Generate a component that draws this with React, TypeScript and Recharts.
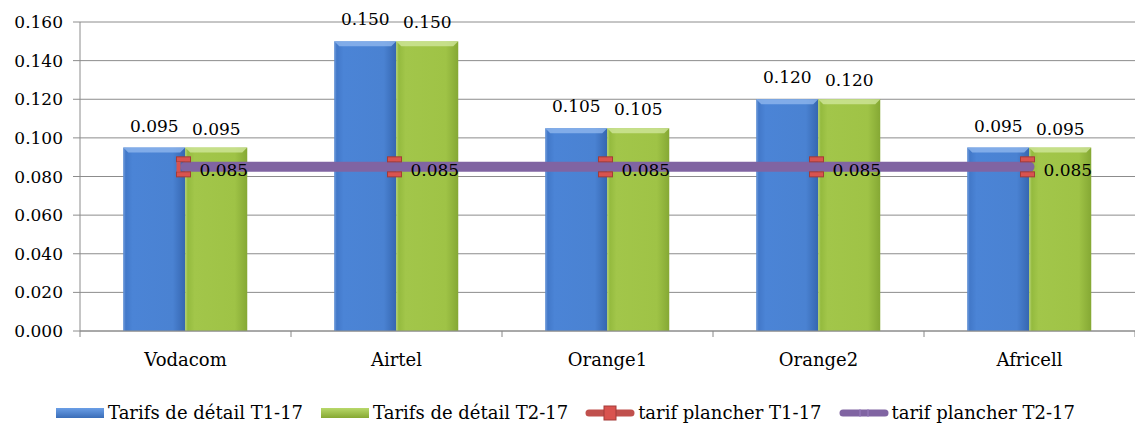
import React from 'react';
import {
  ComposedChart, Bar, Line, XAxis, YAxis, CartesianGrid, Legend, LabelList
} from 'recharts';

const categories = ['Vodacom', 'Airtel', 'Orange1', 'Orange2', 'Africell'];
const retailT1 = [0.095, 0.150, 0.105, 0.120, 0.095];
const retailT2 = [0.095, 0.150, 0.105, 0.120, 0.095];
const floorT1 = [0.085, 0.085, 0.085, 0.085, 0.085];
const floorT2 = [0.085, 0.085, 0.085, 0.085, 0.085];
const yTicks = [0, 0.02, 0.04, 0.06, 0.08, 0.1, 0.12, 0.14, 0.16];

const data = categories.map((c, i) => ({
  name: c,
  t1: retailT1[i],
  t2: retailT2[i],
  p1: floorT1[i],
  p2: floorT2[i],
}));

const FONT = 'DejaVu Serif';
const fmt = (v: any) => Number(v).toFixed(3);
const PURPLE_W = 10;

// bar with a little bevel on top, like the office 3d look
function BevelBar(props: any) {
  const { x, y, width, height, gradId, light } = props;
  if (!height || height <= 0) return null;
  const b = 5;
  return (
    <g>
      <rect x={x} y={y} width={width} height={height} fill={`url(#${gradId})`} />
      <polygon points={`${x},${y} ${x + width},${y} ${x + width - b},${y + b} ${x + b},${y + b}`} fill={light} opacity={0.8} />
      <rect x={x} y={y} width={2} height={height} fill={light} opacity={0.35} />
    </g>
  );
}

// red marker sits behind the thick purple line, so only the parts
// sticking out above/below (and left of the line start) get drawn
function SquareDot(props: any) {
  const { cx, cy, index } = props;
  if (cx == null || cy == null) return null;
  const x0 = cx - 9, w = 14, y0 = cy - 10, h = 20;
  const band = PURPLE_W / 2;
  return (
    <g fill="#d9534f" stroke="#a33b38" strokeWidth={1}>
      <rect x={x0} y={y0} width={w} height={h - 10 - band + 0} />
      <rect x={x0} y={cy + band} width={w} height={y0 + h - (cy + band)} />
      {index === 0 && <rect x={x0} y={cy - band} width={4} height={PURPLE_W} stroke="none" />}
    </g>
  );
}

function mkLabel(dx: number, dy: number, anchor: string) {
  return (p: any) => {
    const { x, y, width, value } = p;
    const tx = anchor === 'middle' ? x + width / 2 : x + dx;
    return (
      <text x={tx} y={y + dy} textAnchor={anchor} fontFamily={FONT} fontSize={17} fill="#000">
        {fmt(value)}
      </text>
    );
  };
}

function CatTick(props: any) {
  const { x, y, payload, index, visibleTicksCount } = props;
  const off = payload?.offset ?? 0;
  return (
    <g>
      <line x1={x - off} x2={x - off} y1={y - 8} y2={y - 2} stroke="#888" />
      {index === visibleTicksCount - 1 && (
        <line x1={x + off} x2={x + off} y1={y - 8} y2={y - 2} stroke="#888" />
      )}
      <text x={x} y={y + 27} textAnchor="middle" fontFamily={FONT} fontSize={18} fill="#000">
        {payload.value}
      </text>
    </g>
  );
}

function LegendContent() {
  const item = (icon: React.ReactNode, label: string) => (
    <div style={{ display: 'flex', alignItems: 'center', marginRight: 16 }}>
      <svg width={52} height={18} style={{ marginRight: 2 }}>{icon}</svg>
      <span>{label}</span>
    </div>
  );
  return (
    <div style={{ display: 'flex', justifyContent: 'center', paddingTop: 21, fontFamily: FONT, fontSize: 18, color: '#000' }}>
      {item(<rect x={2} y={4} width={48} height={10} fill="url(#gBlueL)" />, 'Tarifs de détail T1-17')}
      {item(<rect x={2} y={4} width={48} height={10} fill="url(#gGreenL)" />, 'Tarifs de détail T2-17')}
      {item(
        <g>
          <line x1={5} x2={47} y1={9} y2={9} stroke="#c0504d" strokeWidth={7} strokeLinecap="round" />
          <rect x={20} y={2} width={12} height={14} fill="#d9534f" stroke="#a33b38" />
        </g>,
        'tarif plancher T1-17'
      )}
      {item(
        <g>
          <line x1={5} x2={47} y1={9} y2={9} stroke="#8064a2" strokeWidth={7} strokeLinecap="round" />
          <line x1={22} x2={22} y1={5} y2={13} stroke="#9a7fbf" strokeWidth={1} />
          <line x1={30} x2={30} y1={5} y2={13} stroke="#9a7fbf" strokeWidth={1} />
        </g>,
        'tarif plancher T2-17'
      )}
    </div>
  );
}

export default function App() {
  return (
    <div style={{ position: 'absolute', left: 0, top: 0, width: 1135, height: 436, background: '#fff' }}>
      <svg width={0} height={0} style={{ position: 'absolute' }}>
        <defs>
          <linearGradient id="gBlueL" x1="0" y1="0" x2="0" y2="1">
            <stop offset="0" stopColor="#6a9ee6" />
            <stop offset="1" stopColor="#3a6db8" />
          </linearGradient>
          <linearGradient id="gGreenL" x1="0" y1="0" x2="0" y2="1">
            <stop offset="0" stopColor="#b8d86a" />
            <stop offset="1" stopColor="#86a832" />
          </linearGradient>
        </defs>
      </svg>
      <ComposedChart
        width={1135}
        height={436}
        data={data}
        margin={{ top: 22, right: 0, left: 10, bottom: 0 }}
        barCategoryGap="20.5%"
        barGap={0}
      >
        <defs>
          <linearGradient id="gBlue" x1="0" y1="0" x2="1" y2="0">
            <stop offset="0" stopColor="#3f74c4" />
            <stop offset="0.15" stopColor="#4b84d6" />
            <stop offset="0.8" stopColor="#4a82d2" />
            <stop offset="1" stopColor="#3566b0" />
          </linearGradient>
          <linearGradient id="gGreen" x1="0" y1="0" x2="1" y2="0">
            <stop offset="0" stopColor="#8fb63a" />
            <stop offset="0.15" stopColor="#a2c64a" />
            <stop offset="0.8" stopColor="#9fc346" />
            <stop offset="1" stopColor="#85a834" />
          </linearGradient>
        </defs>
        <CartesianGrid vertical={false} stroke="#8c8c8c" strokeWidth={1} />
        <XAxis
          dataKey="name"
          height={50}
          axisLine={{ stroke: '#8c8c8c' }}
          tickLine={false}
          tick={<CatTick />}
          interval={0}
        />
        <YAxis
          width={70}
          domain={[0, 0.16]}
          ticks={yTicks}
          tickFormatter={fmt}
          axisLine={{ stroke: '#8c8c8c' }}
          tickLine={{ stroke: '#8c8c8c' }}
          tickSize={7}
          tickMargin={10}
          tick={{ fontFamily: FONT, fontSize: 17, fill: '#000' }}
        />
        <Legend verticalAlign="bottom" height={55} content={<LegendContent />} />
        <Bar dataKey="t1" name="Tarifs de détail T1-17" isAnimationActive={false}
          shape={(p: any) => <BevelBar {...p} gradId="gBlue" light="#8fb6ee" />}>
          <LabelList dataKey="t1" content={mkLabel(0, -16, 'middle')} />
        </Bar>
        <Bar dataKey="t2" name="Tarifs de détail T2-17" isAnimationActive={false}
          shape={(p: any) => <BevelBar {...p} gradId="gGreen" light="#cfe69a" />}>
          <LabelList dataKey="t2" content={mkLabel(0, -13, 'middle')} />
        </Bar>
        <Line dataKey="p1" name="tarif plancher T1-17" stroke="#c0504d" strokeWidth={6}
          dot={<SquareDot />} activeDot={false} isAnimationActive={false} />
        <Line dataKey="p2" name="tarif plancher T2-17" stroke="#8064a2" strokeWidth={PURPLE_W}
          strokeLinecap="round" dot={false} activeDot={false} isAnimationActive={false}>
          <LabelList dataKey="p2" content={mkLabel(14, 9, 'start')} />
        </Line>
      </ComposedChart>
    </div>
  );
}
